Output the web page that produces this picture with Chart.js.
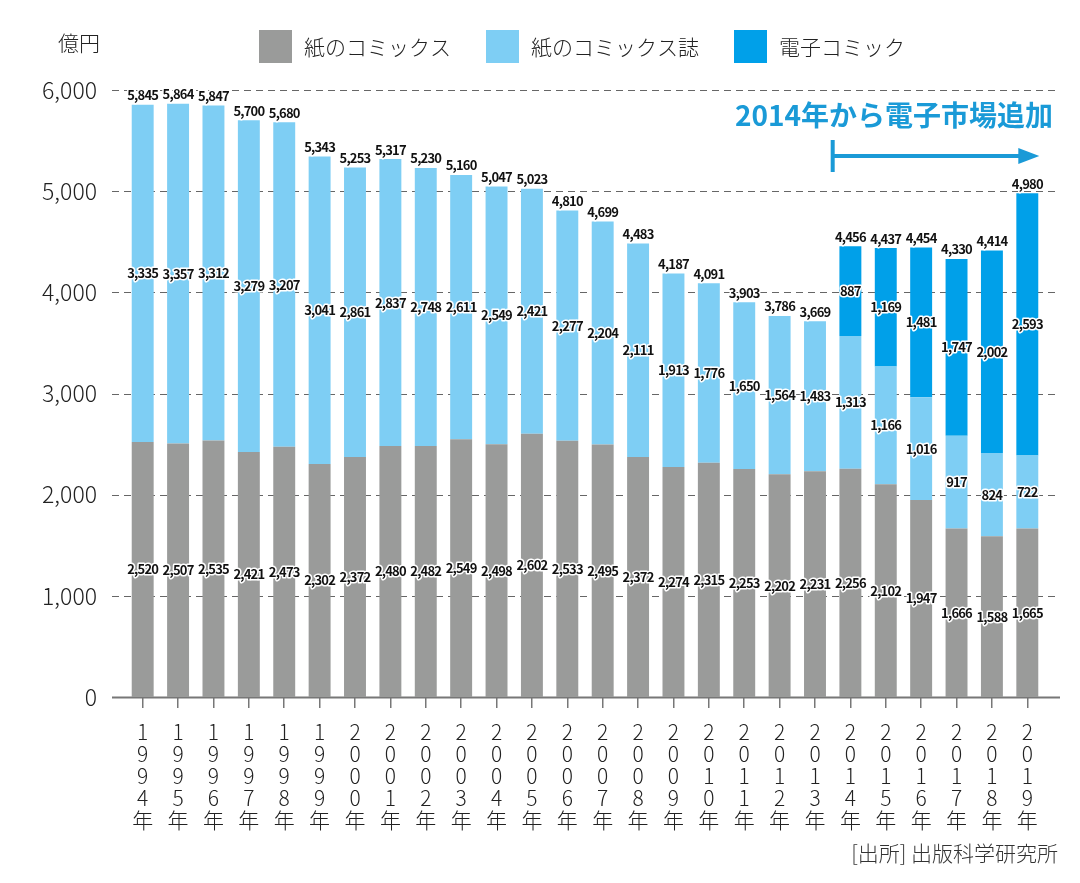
<!DOCTYPE html>
<html lang="ja">
<head>
<meta charset="utf-8">
<script src="https://cdn.jsdelivr.net/npm/chart.js@4.4.1/dist/chart.umd.min.js"></script>
<style>
  html, body { margin: 0; padding: 0; background: #fff; }
  #wrap { width: 1080px; height: 883px; position: relative; }
</style>
</head>
<body>
<div id="wrap"><canvas id="comics" width="1080" height="883"></canvas></div>
<script>
// 年
const years = ['1994','1995','1996','1997','1998','1999','2000','2001','2002','2003','2004','2005','2006',
               '2007','2008','2009','2010','2011','2012','2013','2014','2015','2016','2017','2018','2019'];
// 紙のコミックス（億円）
const paperComics = [2520,2507,2535,2421,2473,2302,2372,2480,2482,2549,2498,2602,2533,
                     2495,2372,2274,2315,2253,2202,2231,2256,2102,1947,1666,1588,1665];
// 紙のコミックス誌（億円）
const paperMagazines = [3335,3357,3312,3279,3207,3041,2861,2837,2748,2611,2549,2421,2277,
                        2204,2111,1913,1776,1650,1564,1483,1313,1166,1016,917,824,722];
// 電子コミック（2014年から）
const digitalComics = [null,null,null,null,null,null,null,null,null,null,null,null,null,
                       null,null,null,null,null,null,null,887,1169,1481,1747,2002,2593];
// 合計（図中の表記）
const totals = [5845,5864,5847,5700,5680,5343,5253,5317,5230,5160,5047,5023,4810,
                4699,4483,4187,4091,3903,3786,3669,4456,4437,4454,4330,4414,4980];
const yTicks = [0,1000,2000,3000,4000,5000,6000];

const FONT = '"Noto Sans CJK JP", "Noto Sans", sans-serif';
const fmt = (n) => Number(n).toLocaleString('en-US');

/* -----------------------------
 * 点線グリッド + 0 の軸線
 * ---------------------------*/
const gridPlugin = {
  id: 'gridPlugin',
  beforeDatasetsDraw(chart) {
    const {ctx, chartArea, scales: {y}} = chart;
    const x0 = chartArea.left - 13, x1 = chartArea.right + 15;
    ctx.save();
    yTicks.forEach(v => {
      const py = Math.round(y.getPixelForValue(v)) + 0.5;
      ctx.beginPath();
      if (v === 0) {
        ctx.setLineDash([]);
        ctx.lineWidth = 2;
        ctx.strokeStyle = '#777';
      } else {
        ctx.setLineDash([7, 5]);
        ctx.lineWidth = 1;
        ctx.strokeStyle = '#666';
      }
      ctx.moveTo(x0, py);
      ctx.lineTo(x1, py);
      ctx.stroke();
    });
    ctx.restore();
  }
};

/* -----------------------------
 * 棒の中と上に数値
 * ---------------------------*/
const valueLabelPlugin = {
  id: 'valueLabelPlugin',
  afterDatasetsDraw(chart) {
    const {ctx} = chart;
    ctx.save();
    ctx.font = 'bold 13px ' + FONT;
    ctx.letterSpacing = '-0.8px';
    ctx.textAlign = 'center';
    ctx.lineJoin = 'round';
    const put = (txt, x, y, base) => {
      ctx.textBaseline = base;
      ctx.lineWidth = 3;
      ctx.strokeStyle = '#fff';
      ctx.strokeText(txt, x, y);
      ctx.fillStyle = '#111';
      ctx.fillText(txt, x, y);
    };
    chart.data.datasets.forEach((ds, di) => {
      const meta = chart.getDatasetMeta(di);
      meta.data.forEach((el, i) => {
        const v = ds.data[i];
        if (v == null) return;
        put(fmt(v), el.x, (el.y + el.base) / 2, 'middle');
      });
    });
    // 合計
    totals.forEach((t, i) => {
      let top = null;
      chart.data.datasets.forEach((ds, di) => {
        if (ds.data[i] == null) return;
        const el = chart.getDatasetMeta(di).data[i];
        top = top === null ? el.y : Math.min(top, el.y);
      });
      const x = chart.getDatasetMeta(0).data[i].x;
      put(fmt(t), x, top - 3, 'bottom');
    });
    ctx.restore();
  }
};

/* -----------------------------
 * 凡例・単位・注記・出所
 * ---------------------------*/
const decorPlugin = {
  id: 'decorPlugin',
  afterDraw(chart) {
    const {ctx, scales: {x}} = chart;
    ctx.save();

    // 単位
    ctx.font = '300 21px ' + FONT;
    ctx.fillStyle = '#222';
    ctx.textAlign = 'right';
    ctx.textBaseline = 'middle';
    ctx.fillText('億円', 100, 43);

    // 凡例
    const box = 33, gapText = 12, gapItem = 35;
    ctx.font = '300 21px ' + FONT;
    const items = chart.data.datasets.map(ds => ({text: ds.label, color: ds.backgroundColor}));
    const widths = items.map(it => box + gapText + ctx.measureText(it.text).width);
    const total = widths.reduce((a, b) => a + b, 0) + gapItem * (items.length - 1);
    let lx = (chart.chartArea.left + chart.chartArea.right) / 2 - total / 2 - 3;
    items.forEach((it, i) => {
      ctx.fillStyle = it.color;
      ctx.fillRect(lx, 30, box, box);
      ctx.fillStyle = '#222';
      ctx.textAlign = 'left';
      ctx.fillText(it.text, lx + box + gapText, 47);
      lx += widths[i] + gapItem;
    });

    // 注記
    const blue = '#1a9ad7';
    ctx.font = 'bold 28px ' + FONT;
    ctx.fillStyle = blue;
    ctx.textAlign = 'left';
    ctx.textBaseline = 'middle';
    ctx.fillText('2014年から電子市場追加', 735, 115);

    const xs = (x.getPixelForValue(19) + x.getPixelForValue(20)) / 2;
    const xe = x.getPixelForValue(25) + 12;
    const ay = 156;
    ctx.strokeStyle = blue;
    ctx.lineWidth = 4;
    ctx.beginPath();
    ctx.moveTo(xs, ay - 16); ctx.lineTo(xs, ay + 16);
    ctx.moveTo(xs, ay); ctx.lineTo(xe - 18, ay);
    ctx.stroke();
    ctx.fillStyle = blue;
    ctx.beginPath();
    ctx.moveTo(xe, ay);
    ctx.lineTo(xe - 21, ay - 8);
    ctx.lineTo(xe - 21, ay + 8);
    ctx.closePath();
    ctx.fill();

    // 出所
    ctx.font = '300 21px ' + FONT;
    ctx.fillStyle = '#333';
    ctx.textAlign = 'right';
    ctx.fillText('[出所] 出版科学研究所', 1058, 853);

    ctx.restore();
  }
};

const ctx = document.getElementById('comics').getContext('2d');
new Chart(ctx, {
  type: 'bar',
  data: {
    labels: years.map(y => [...y.split(''), '年']),
    datasets: [
      { label: '紙のコミックス',   data: paperComics,    backgroundColor: '#9a9b9a' },
      { label: '紙のコミックス誌', data: paperMagazines, backgroundColor: '#7ecef4' },
      { label: '電子コミック',     data: digitalComics,  backgroundColor: '#00a0e9' }
    ]
  },
  options: {
    responsive: false,
    animation: false,
    layout: { padding: { top: 90, right: 35, bottom: 0, left: 0 } },
    datasets: { bar: { categoryPercentage: 1.0, barPercentage: 0.62, borderWidth: 0 } },
    plugins: {
      legend: { display: false },
      tooltip: { enabled: false }
    },
    scales: {
      x: {
        stacked: true,
        afterFit(scale) { scale.height = 186; },
        border: { display: false },
        grid: { offset: false, drawOnChartArea: false, drawTicks: true, tickLength: 11, color: '#777', lineWidth: 1.5 },
        ticks: {
          autoSkip: false, maxRotation: 0, padding: 13,
          color: '#222',
          font: { family: FONT, size: 21, weight: '300', lineHeight: '22px' }
        }
      },
      y: {
        stacked: true,
        min: 0, max: 6000,
        afterFit(scale) { scale.width = 125; },
        border: { display: false },
        grid: { display: false },
        ticks: {
          stepSize: 1000, padding: 20,
          color: '#222',
          font: { family: FONT, size: 23, weight: '300' },
          callback: v => fmt(v)
        }
      }
    }
  },
  plugins: [gridPlugin, valueLabelPlugin, decorPlugin]
});
</script>
</body>
</html>
